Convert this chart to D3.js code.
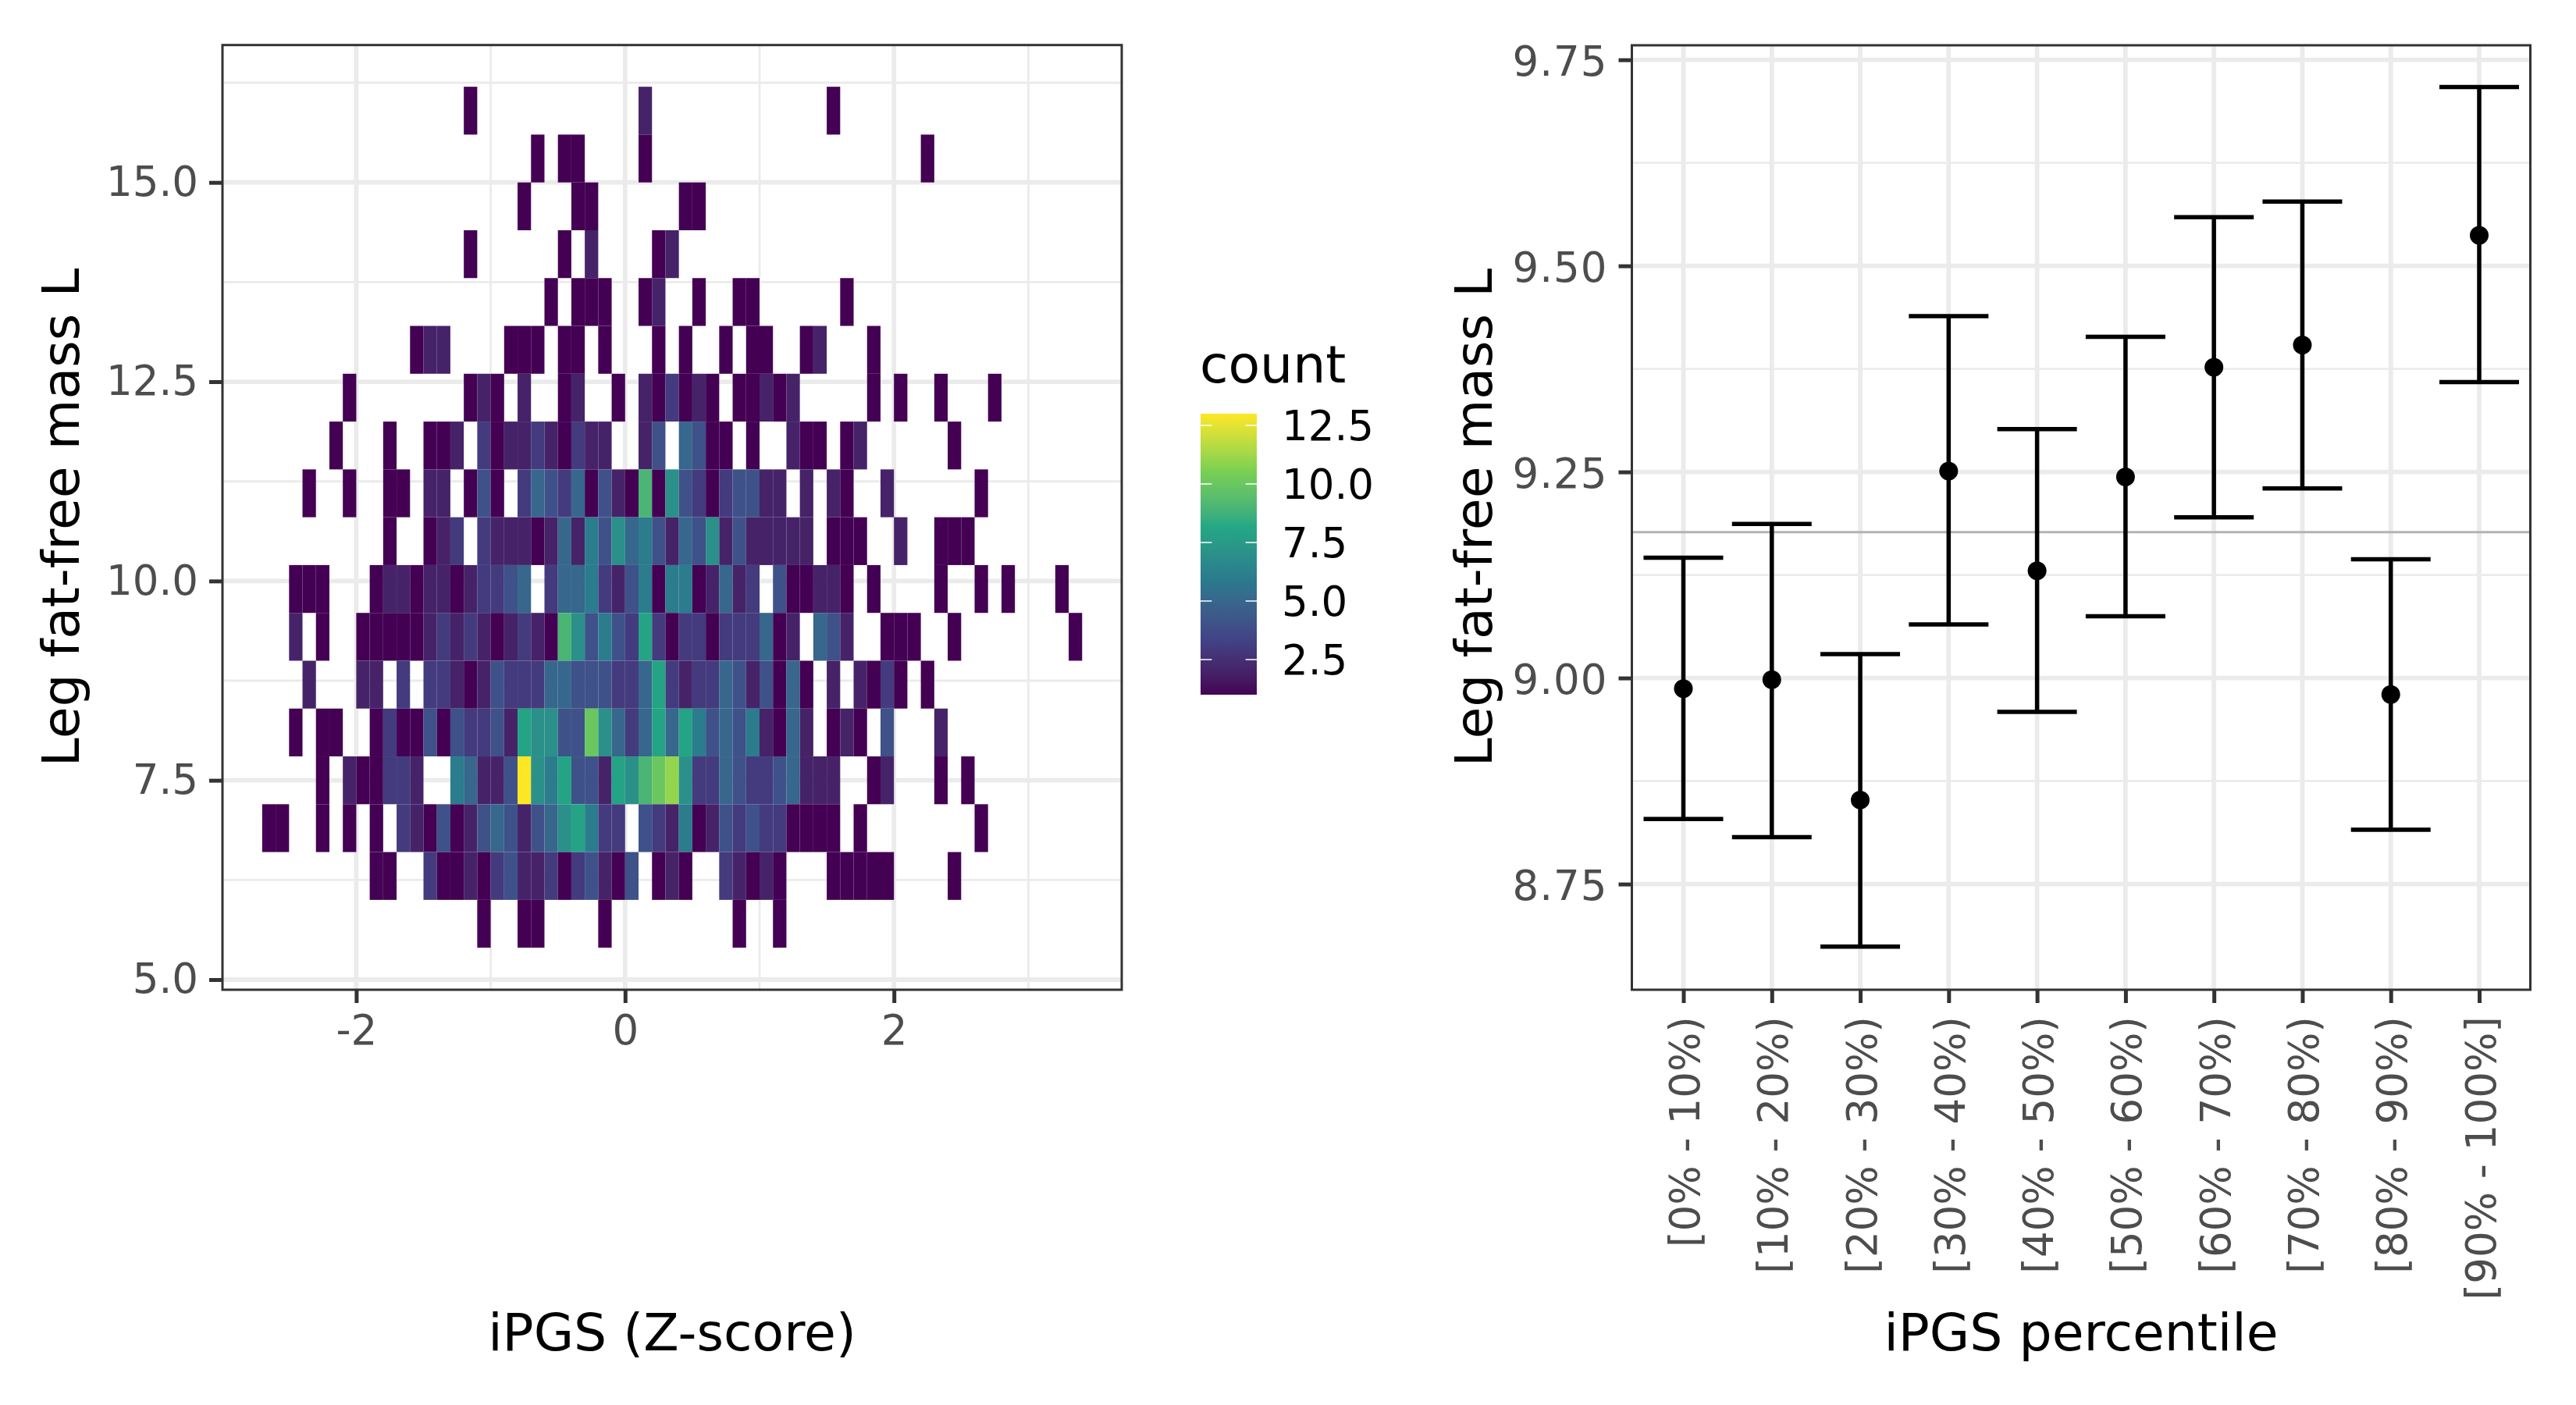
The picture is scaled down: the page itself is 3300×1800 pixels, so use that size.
<!DOCTYPE html>
<html>
<head>
<meta charset="utf-8">
<script src="https://cdn.jsdelivr.net/npm/d3@7"></script>
<style>
html,body{margin:0;padding:0;background:#fff}
svg{display:block}
text{font-family:"DejaVu Sans",sans-serif}
</style>
</head>
<body>
<svg id="chart" width="3300" height="1800"></svg>
<script>
// ---------- DATA: left panel, 2D histogram ----------
const xBinStart = -2.7;      // left edge of x bin 0
const xBinWidth = 0.1;
const yBinHeight = 0.6;
// lower edge of each y bin, listed top row first
const yBinLows = [15.6,15.0,14.4,13.8,13.2,12.6,12.0,11.4,10.8,10.2,9.6,9.0,8.4,7.8,7.2,6.6,6.0,5.4];
// each row: [x bin index, count]
const row00 = [[15,1],[28,2],[42,1]];
const row01 = [[20,1],[22,1],[23,1],[28,1],[49,1]];
const row02 = [[19,1],[23,1],[24,1],[31,1],[32,1]];
const row03 = [[15,1],[22,1],[24,2],[29,1],[30,2]];
const row04 = [[21,1],[23,1],[24,1],[25,1],[28,1],[29,2],[32,1],[35,1],[36,1],[43,1]];
const row05 = [[11,1],[12,2],[13,2],[18,1],[19,1],[20,1],[22,1],[23,1],[25,1],[29,1],[31,1],[34,1],[36,1],[37,1],[40,1],[41,2],[45,1]];
const row06 = [[6,1],[15,1],[16,2],[17,1],[19,2],[22,1],[23,2],[26,1],[28,2],[29,1],[30,3],[31,1],[32,2],[33,1],[35,1],[36,1],[37,2],[38,1],[39,2],[45,1],[47,1],[50,1],[54,1]];
const row07 = [[5,1],[9,1],[12,1],[13,1],[14,2],[16,3],[17,1],[18,2],[19,2],[20,3],[21,2],[22,1],[23,3],[24,2],[25,2],[28,2],[29,4],[31,5],[32,4],[33,1],[34,1],[36,1],[39,2],[40,1],[41,1],[43,1],[44,2],[51,1]];
const row08 = [[3,1],[6,1],[9,1],[10,1],[12,2],[13,2],[15,1],[16,4],[17,1],[19,3],[20,5],[21,4],[22,3],[23,5],[24,1],[25,4],[26,2],[27,1],[28,9],[29,1],[30,7],[31,4],[32,3],[33,1],[34,3],[35,4],[36,4],[37,2],[38,2],[40,2],[42,2],[43,1],[46,2],[53,1]];
const row09 = [[9,1],[12,1],[13,2],[14,3],[16,3],[17,2],[18,2],[19,2],[20,1],[21,2],[22,5],[23,2],[24,6],[25,4],[26,7],[27,5],[28,6],[29,4],[30,2],[31,5],[32,4],[33,7],[34,2],[35,4],[36,2],[37,2],[38,2],[39,2],[40,2],[42,1],[43,1],[44,1],[47,2],[50,1],[51,1],[52,1]];
const row10 = [[2,1],[3,1],[4,1],[8,1],[9,2],[10,2],[11,1],[12,2],[13,2],[14,1],[15,2],[16,3],[17,3],[18,4],[19,5],[21,3],[22,5],[23,5],[24,6],[25,3],[26,2],[27,4],[28,6],[29,1],[30,6],[31,6],[32,1],[33,2],[34,5],[35,2],[36,3],[38,4],[39,1],[40,1],[41,2],[42,2],[43,1],[45,1],[50,1],[53,1],[55,1],[59,1]];
const row11 = [[2,2],[4,1],[7,1],[8,1],[9,1],[10,1],[11,1],[12,2],[13,3],[14,2],[15,3],[16,2],[17,1],[18,2],[19,3],[20,2],[21,1],[22,9],[23,7],[24,4],[25,6],[26,4],[27,3],[28,8],[29,3],[30,1],[31,3],[32,3],[33,1],[34,3],[35,3],[36,3],[37,5],[38,1],[39,2],[41,5],[42,4],[43,2],[46,1],[47,1],[48,1],[51,1],[60,1]];
const row12 = [[3,2],[7,2],[8,2],[10,3],[12,3],[13,3],[14,2],[15,1],[16,2],[17,4],[18,3],[19,3],[20,3],[21,5],[22,5],[23,4],[24,4],[25,4],[26,3],[27,3],[28,5],[29,8],[30,3],[31,2],[32,3],[33,3],[34,5],[35,4],[36,2],[37,4],[38,1],[39,5],[40,1],[42,2],[44,2],[45,1],[46,3],[47,1],[49,1]];
const row13 = [[2,1],[4,1],[5,1],[8,1],[9,3],[10,1],[11,1],[12,4],[13,1],[14,4],[15,3],[16,3],[17,4],[18,2],[19,8],[20,7],[21,7],[22,4],[23,4],[24,10],[25,7],[26,5],[27,3],[28,5],[29,8],[30,5],[31,8],[32,6],[33,4],[34,5],[35,4],[36,6],[37,2],[38,1],[39,5],[40,2],[42,1],[43,2],[44,1],[46,4],[50,2]];
const row14 = [[4,1],[6,2],[7,1],[8,1],[9,3],[10,3],[11,2],[14,6],[15,5],[16,2],[17,2],[18,4],[19,13],[20,7],[21,6],[22,8],[23,4],[24,4],[25,2],[26,8],[27,7],[28,9],[29,10],[30,11],[31,7],[32,3],[33,3],[34,5],[35,4],[36,3],[37,3],[38,4],[39,5],[40,2],[41,2],[42,2],[45,1],[46,2],[50,1],[52,1]];
const row15 = [[0,1],[1,1],[4,1],[6,1],[8,1],[10,3],[11,2],[12,1],[13,4],[14,1],[15,2],[16,4],[17,5],[18,4],[19,2],[20,4],[21,5],[22,7],[23,8],[24,6],[25,3],[26,3],[28,4],[29,3],[30,2],[31,6],[32,1],[33,2],[34,4],[35,3],[36,4],[37,3],[38,3],[39,1],[40,1],[41,1],[42,1],[44,1],[53,1]];
const row16 = [[8,1],[9,1],[12,3],[13,1],[14,1],[15,2],[16,1],[17,3],[18,4],[19,2],[20,2],[21,3],[22,1],[23,3],[24,4],[25,2],[26,1],[27,4],[29,1],[30,2],[31,1],[34,3],[35,2],[36,1],[37,2],[38,1],[42,1],[43,1],[44,1],[45,1],[46,1],[51,1]];
const row17 = [[16,1],[19,1],[20,1],[25,1],[35,1],[38,1]];
const tileRows = [row00,row01,row02,row03,row04,row05,row06,row07,row08,row09,row10,row11,row12,row13,row14,row15,row16,row17];

const leftXMajor = [-2,0,2];
const leftXMinor = [-1,1,3];
const leftYMajor = [5,7.5,10,12.5,15];
const leftYMinor = [6.25,8.75,11.25,13.75,16.25];
const legendTicks = [2.5,5,7.5,10,12.5];
const legendStops = ["#440154","#414487","#2A788E","#22A884","#7AD151","#FDE725"];

// ---------- DATA: right panel, means with error bars ----------
const percentileLabels = ["[0% - 10%)","[10% - 20%)","[20% - 30%)","[30% - 40%)","[40% - 50%)","[50% - 60%)","[60% - 70%)","[70% - 80%)","[80% - 90%)","[90% - 100%]"];
const meanValues  = [8.987,8.998,8.852,9.251,9.130,9.244,9.377,9.404,8.980,9.537];
const upperValues = [9.146,9.187,9.029,9.439,9.302,9.414,9.559,9.578,9.144,9.717];
const lowerValues = [8.829,8.807,8.674,9.065,8.959,9.075,9.195,9.230,8.816,9.359];
const referenceLine = 9.177;
const rightYMajor = [8.75,9,9.25,9.5,9.75];
const rightYMinor = [8.875,9.125,9.375,9.625];

// ---------- LAYOUT ----------
const L = {left:285, right:1437, top:57.7, bottom:1268};
const R = {left:2090.5, right:3241.5, top:58, bottom:1268};
const GRID = "#ebebeb", BORDER = "#333333", TICKTXT = "#4d4d4d";
const MAJOR_W = 5.8, MINOR_W = 2.9, BORDER_W = 3, TICK_W = 5, TICK_LEN = 17;
const TITLE_SIZE = 66.4, TEXT_SIZE = 53;

const svg = d3.select("#chart");

// ---------- scales ----------
const xL = d3.scaleLinear().domain([-2,3]).range([456.4,1317.4]);
const yL = d3.scaleLinear().domain([5,15]).range([1255,233.7]);
const fill = d3.scaleLinear()
  .domain(d3.range(6).map(i => 1 + i*12/5))
  .range(legendStops)
  .interpolate(d3.interpolateLab);
const xR = d3.scalePoint().domain(percentileLabels).range([2156.5,3176]);
const yR = d3.scaleLinear().domain([8.75,9.75]).range([1132.6,76.6]);

function hGrid(g, vals, y, P, w){
  g.selectAll(null).data(vals).join("line")
   .attr("x1",P.left).attr("x2",P.right)
   .attr("y1",d=>y(d)).attr("y2",d=>y(d))
   .attr("stroke",GRID).attr("stroke-width",w);
}
function vGrid(g, vals, x, P, w){
  g.selectAll(null).data(vals).join("line")
   .attr("y1",P.top).attr("y2",P.bottom)
   .attr("x1",d=>x(d)).attr("x2",d=>x(d))
   .attr("stroke",GRID).attr("stroke-width",w);
}
function styleAxis(g){
  g.select(".domain").remove();
  g.selectAll(".tick line").attr("stroke",BORDER).attr("stroke-width",TICK_W);
  g.selectAll(".tick text").attr("fill",TICKTXT).style("font-size",TEXT_SIZE+"px")
    .style("font-family",'"DejaVu Sans",sans-serif');
}
function border(P){
  svg.append("rect").attr("x",P.left).attr("y",P.top)
    .attr("width",P.right-P.left).attr("height",P.bottom-P.top)
    .attr("fill","none").attr("stroke",BORDER).attr("stroke-width",BORDER_W);
}

// ---------- left panel ----------
const gl = svg.append("g");
hGrid(gl,leftYMinor,yL,L,MINOR_W);
vGrid(gl,leftXMinor,xL,L,MINOR_W);
hGrid(gl,leftYMajor,yL,L,MAJOR_W);
vGrid(gl,leftXMajor,xL,L,MAJOR_W);

const tiles = tileRows.flatMap((row,i)=>row.map(([c,n])=>({
  x0: xBinStart + c*xBinWidth,
  y0: yBinLows[i],
  n
})));
gl.selectAll("rect.tile").data(tiles).join("rect").attr("class","tile")
  .attr("x",d=>xL(d.x0))
  .attr("y",d=>yL(d.y0+yBinHeight))
  .attr("width",d=>xL(d.x0+xBinWidth)-xL(d.x0))
  .attr("height",d=>yL(d.y0)-yL(d.y0+yBinHeight))
  .attr("fill",d=>fill(d.n));
border(L);

svg.append("g").attr("transform",`translate(${L.left},0)`)
  .call(d3.axisLeft(yL).tickValues(leftYMajor).tickSize(TICK_LEN).tickPadding(14).tickFormat(d3.format(".1f")))
  .call(styleAxis);
svg.append("g").attr("transform",`translate(0,${L.bottom})`)
  .call(d3.axisBottom(xL).tickValues(leftXMajor).tickSize(TICK_LEN).tickPadding(15.5).tickFormat(d=>String(d)))
  .call(styleAxis);

svg.append("text").attr("x",(L.left+L.right)/2).attr("y",1730).attr("text-anchor","middle")
  .style("font-size",TITLE_SIZE+"px").attr("fill","#000").text("iPGS (Z-score)");
svg.append("text").attr("transform",`translate(101,${(L.top+L.bottom)/2}) rotate(-90)`).attr("text-anchor","middle")
  .style("font-size",TITLE_SIZE+"px").attr("fill","#000").text("Leg fat-free mass L");

// ---------- legend ----------
const legY = d3.scaleLinear().domain([1,13]).range([890,530]);
const defs = svg.append("defs");
const grad = defs.append("linearGradient").attr("id","legendGrad")
  .attr("x1",0).attr("x2",0).attr("y1",1).attr("y2",0);
d3.range(0,1.0001,1/48).forEach(t=>{
  grad.append("stop").attr("offset",t).attr("stop-color",fill(1+12*t));
});
const lg = svg.append("g");
lg.append("rect").attr("x",1538).attr("y",530).attr("width",72).attr("height",360).attr("fill","url(#legendGrad)");
lg.selectAll("line.l").data(legendTicks).join("line").attr("x1",1538).attr("x2",1552.4)
  .attr("y1",d=>legY(d)).attr("y2",d=>legY(d)).attr("stroke","#fff").attr("stroke-width",1.5);
lg.selectAll("line.r").data(legendTicks).join("line").attr("x1",1595.6).attr("x2",1610)
  .attr("y1",d=>legY(d)).attr("y2",d=>legY(d)).attr("stroke","#fff").attr("stroke-width",1.5);
lg.selectAll("text.t").data(legendTicks).join("text").attr("x",1642).attr("y",d=>legY(d)).attr("dy",".36em")
  .style("font-size",TEXT_SIZE+"px").attr("fill","#000").text(d3.format(".1f"));
svg.append("text").attr("x",1537).attr("y",490).style("font-size",TITLE_SIZE+"px").attr("fill","#000").text("count");

// ---------- right panel ----------
const gr = svg.append("g");
hGrid(gr,rightYMinor,yR,R,MINOR_W);
hGrid(gr,rightYMajor,yR,R,MAJOR_W);
vGrid(gr,percentileLabels,xR,R,MAJOR_W);

gr.append("line").attr("x1",R.left).attr("x2",R.right)
  .attr("y1",yR(referenceLine)).attr("y2",yR(referenceLine))
  .attr("stroke","#b3b3b3").attr("stroke-width",3);

const CAP = 51, BAR_W = 5.5, DOT_R = 12;
const bars = percentileLabels.map((k,i)=>({k,m:meanValues[i],u:upperValues[i],l:lowerValues[i]}));
gr.selectAll("line.v").data(bars).join("line").attr("x1",d=>xR(d.k)).attr("x2",d=>xR(d.k))
  .attr("y1",d=>yR(d.u)).attr("y2",d=>yR(d.l)).attr("stroke","#000").attr("stroke-width",BAR_W);
gr.selectAll("line.u").data(bars).join("line").attr("x1",d=>xR(d.k)-CAP).attr("x2",d=>xR(d.k)+CAP)
  .attr("y1",d=>yR(d.u)).attr("y2",d=>yR(d.u)).attr("stroke","#000").attr("stroke-width",BAR_W);
gr.selectAll("line.b").data(bars).join("line").attr("x1",d=>xR(d.k)-CAP).attr("x2",d=>xR(d.k)+CAP)
  .attr("y1",d=>yR(d.l)).attr("y2",d=>yR(d.l)).attr("stroke","#000").attr("stroke-width",BAR_W);
gr.selectAll("circle").data(bars).join("circle").attr("cx",d=>xR(d.k)).attr("cy",d=>yR(d.m)).attr("r",DOT_R).attr("fill","#000");
border(R);

svg.append("g").attr("transform",`translate(${R.left},0)`)
  .call(d3.axisLeft(yR).tickValues(rightYMajor).tickSize(TICK_LEN).tickPadding(14).tickFormat(d3.format(".2f")))
  .call(styleAxis)
  .call(g=>g.selectAll(".tick text").style("letter-spacing","1px").attr("dy",".38em"));
svg.append("g").attr("transform",`translate(0,${R.bottom})`)
  .call(d3.axisBottom(xR).tickSize(TICK_LEN))
  .call(styleAxis)
  .call(g=>g.selectAll(".tick text")
    .attr("transform","rotate(-90)").attr("text-anchor","end")
    .attr("x",-34).attr("y",20).attr("dy",0).attr("dx",0));

svg.append("text").attr("x",(R.left+R.right)/2).attr("y",1730).attr("text-anchor","middle")
  .style("font-size",TITLE_SIZE+"px").attr("fill","#000").text("iPGS percentile");
svg.append("text").attr("transform",`translate(1911,${(R.top+R.bottom)/2}) rotate(-90)`).attr("text-anchor","middle")
  .style("font-size",TITLE_SIZE+"px").attr("fill","#000").text("Leg fat-free mass L");
</script>
</body>
</html>
